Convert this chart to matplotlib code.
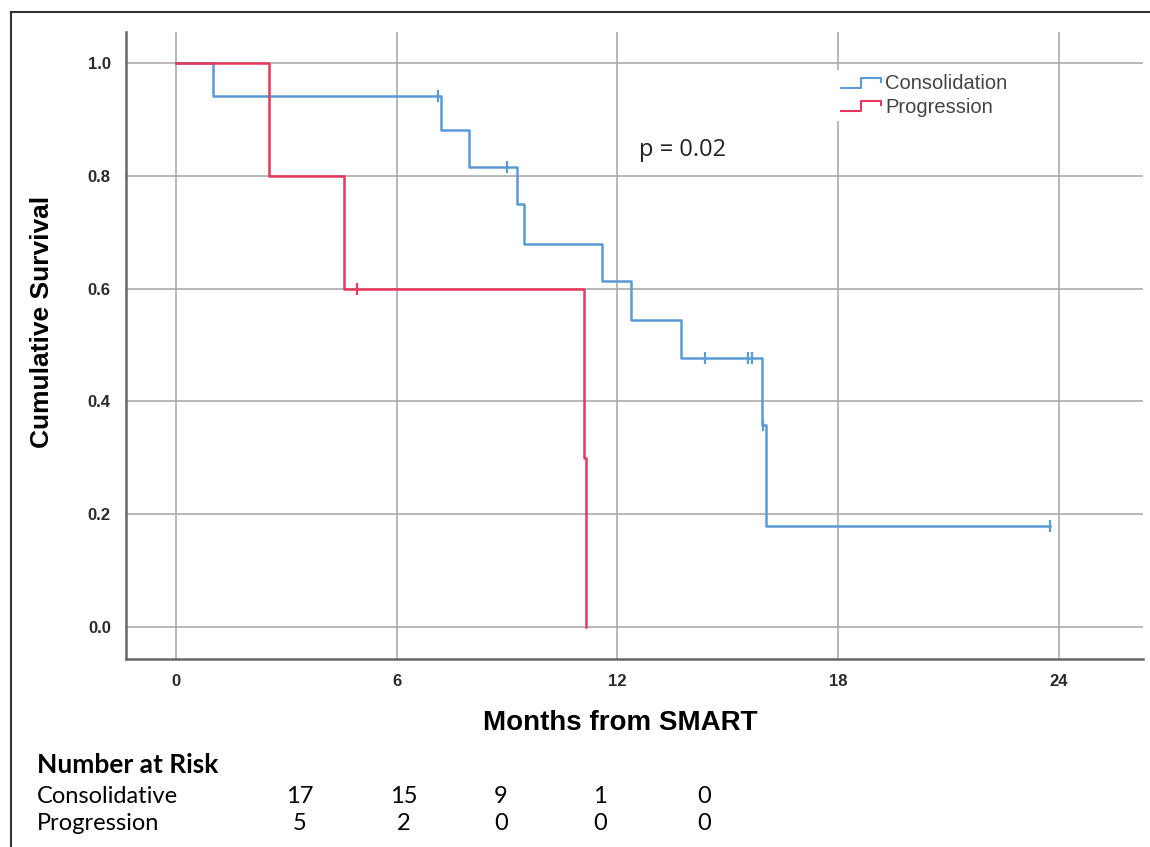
import matplotlib
matplotlib.use("Agg")
import matplotlib.pyplot as plt
from matplotlib.legend_handler import HandlerBase
from matplotlib.lines import Line2D

# Kaplan-Meier steps (months, survival)
cons_t = [0, 1.0, 7.19, 7.96, 9.27, 9.46, 11.57, 12.38, 13.74, 15.92, 16.03, 23.75]
cons_s = [1.0, 0.941, 0.882, 0.816, 0.75, 0.68, 0.613, 0.544, 0.477, 0.358, 0.179, 0.179]
cons_cens_t = [7.12, 8.99, 14.39, 15.55, 15.65, 15.95, 23.75]
cons_cens_s = [0.941, 0.816, 0.477, 0.477, 0.477, 0.358, 0.179]

prog_t = [0, 2.53, 4.57, 11.10, 11.14]
prog_s = [1.0, 0.8, 0.6, 0.3, 0.0]
prog_cens_t = [4.91]
prog_cens_s = [0.6]

risk_labels = ["Consolidative", "Progression"]
risk_cons = [17, 15, 9, 1, 0]
risk_prog = [5, 2, 0, 0, 0]

xticks = [0, 6, 12, 18, 24]
yticks = [0.0, 0.2, 0.4, 0.6, 0.8, 1.0]

blue = "#5b9bd5"
red = "#e8365d"


class StepHandler(HandlerBase):
    def create_artists(self, legend, orig, xd, yd, w, h, fontsize, trans):
        lo, hi = yd + 0.1 * h, yd + 0.8 * h
        xs = [xd, xd + 0.5 * w, xd + 0.5 * w, xd + w, xd + w]
        ys = [lo, lo, hi, hi, hi - 0.25 * h]
        ln = Line2D(xs, ys, color=orig.get_color(), lw=1.5, transform=trans)
        return [ln]


fig = plt.figure(figsize=(11.5, 8.47), dpi=100)
ax = fig.add_axes([0.1096, 0.222, 0.884, 0.740])

l1, = ax.step(cons_t, cons_s, where="post", color=blue, lw=1.8, label="Consolidation")
l2, = ax.step(prog_t, prog_s, where="post", color=red, lw=1.8, label="Progression")
ax.plot(cons_cens_t, cons_cens_s, ls="none", marker="|", ms=9, mew=1.6, color=blue)
ax.plot(prog_cens_t, prog_cens_s, ls="none", marker="|", ms=9, mew=1.6, color=red)

ax.set_xlim(-1.36, 26.28)
ax.set_ylim(-0.057, 1.055)
ax.set_xticks(xticks)
ax.set_yticks(yticks)
ax.set_yticklabels([f"{v:.1f}" for v in yticks])
ax.grid(True, color="#ababab", lw=1.2)
ax.set_axisbelow(True)
for s in ["top", "right"]:
    ax.spines[s].set_visible(False)
for s in ["left", "bottom"]:
    ax.spines[s].set_color("#666666")
    ax.spines[s].set_linewidth(1.8)
ax.tick_params(length=0, pad=11, labelsize=12, labelcolor="#2a2a2a")
for lab in ax.get_xticklabels() + ax.get_yticklabels():
    lab.set_fontfamily("Liberation Sans")
    lab.set_fontweight("bold")

ax.set_xlabel("Months from SMART", fontsize=20, fontweight="bold",
              family="Liberation Sans")
ax.xaxis.set_label_coords(0.486, -0.081)
ax.set_ylabel("Cumulative Survival", fontsize=19, fontweight="bold",
              family="Liberation Sans")
ax.yaxis.set_label_coords(-0.071, 0.5375)

ax.text(12.6, 0.846, "p = 0.02", fontsize=17, family="Open Sans", color="#222222",
        va="center")

leg = ax.legend(handles=[l1, l2], handler_map={Line2D: StepHandler()},
                loc="upper left", bbox_to_anchor=(0.689, 0.955), frameon=True,
                fancybox=False, edgecolor="none", framealpha=1, facecolor="white",
                prop={"family": "Liberation Sans", "size": 14.5},
                handlelength=2.0, handletextpad=0.2, labelspacing=0.2,
                borderpad=0.2)
for t in leg.get_texts():
    t.set_color("#444444")

# number-at-risk table below the axes
fig.text(37 / 1150, 1 - 765 / 847, "Number at Risk", fontsize=19, fontweight="bold",
         family="Lato", va="center")
col_x = [300, 404, 501, 600, 704]
for row, (lab, vals) in enumerate(zip(risk_labels, [risk_cons, risk_prog])):
    yy = 1 - (796 + 27 * row) / 847
    fig.text(37 / 1150, yy, lab, fontsize=17, family="Lato", va="center")
    for cx, v in zip(col_x, vals):
        fig.text(cx / 1150, yy, str(v), fontsize=17, family="Lato", va="center",
                 ha="center")

# outer frame of the figure
fig.add_artist(Line2D([11 / 1150, 1], [1 - 12 / 847] * 2, color="#333333", lw=1.5,
                      transform=fig.transFigure))
fig.add_artist(Line2D([11 / 1150] * 2, [0, 1 - 12 / 847], color="#333333", lw=1.5,
                      transform=fig.transFigure))

fig.savefig("out.png", dpi=100)
